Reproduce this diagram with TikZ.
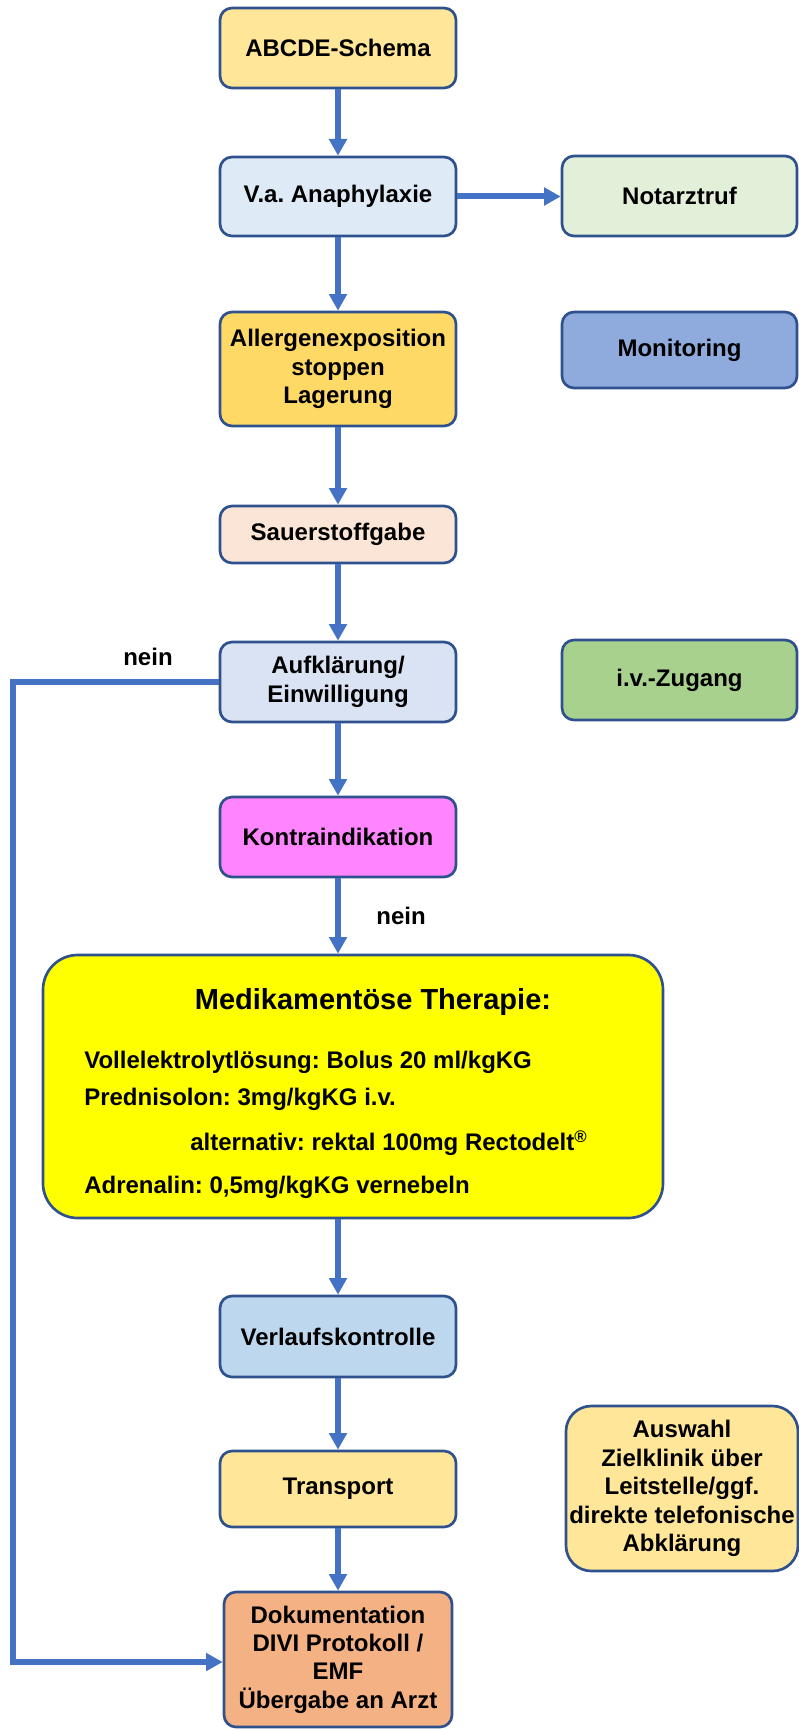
\documentclass[tikz,border=0pt]{standalone}
\usepackage{fontspec}
\setmainfont{Liberation Sans}
\usetikzlibrary{arrows.meta}
\frenchspacing
\definecolor{bordc}{HTML}{2F528F}
\definecolor{linec}{HTML}{4472C4}
\definecolor{cabc}{HTML}{FFE699}
\definecolor{cva}{HTML}{DEEBF7}
\definecolor{cnot}{HTML}{E2F0D9}
\definecolor{call}{HTML}{FFD966}
\definecolor{cmon}{HTML}{8FAADC}
\definecolor{csau}{HTML}{FBE5D6}
\definecolor{cauf}{HTML}{DAE3F3}
\definecolor{civz}{HTML}{A9D18E}
\definecolor{ckon}{HTML}{FF85FF}
\definecolor{cmed}{HTML}{FFFF00}
\definecolor{cver}{HTML}{BDD7EE}
\definecolor{cdok}{HTML}{F4B183}
\tikzset{
  box/.style={draw=bordc, line width=2pt, rounded corners=9pt, align=center,
    font=\fontsize{18}{21.3}\selectfont\bfseries, inner sep=1pt},
  conn/.style={draw=linec, line width=4.5pt, -{Triangle[length=12.5pt,width=13pt]}},
  txt/.style={font=\fontsize{18}{21.3}\selectfont\bfseries, inner sep=0pt},
}
\newcommand\mkbox[7]{\node[box,#6,minimum width={(#4-#2)*0.75pt},minimum height={(#5-#3)*0.75pt}] (#1) at ({(#2+#4)/2},{(#3+#5)/2}) {#7};}
\begin{document}
\begin{tikzpicture}[x=0.75pt,y=-0.75pt]
\useasboundingbox (0,0) rectangle (799,1730);
\mkbox{abc}{220}{8}{456}{88}{fill=cabc}{ABCDE-Schema}
\mkbox{va}{220}{157}{456}{236}{fill=cva}{V.a. Anaphylaxie}
\mkbox{nota}{562}{156}{797}{236}{fill=cnot}{Notarztruf}
\mkbox{all}{220}{312}{456}{426}{fill=call}{Allergenexposition\\stoppen\\Lagerung}
\mkbox{mon}{562}{312}{797}{388}{fill=cmon}{Monitoring}
\mkbox{sau}{220}{506}{456}{563}{fill=csau}{Sauerstoffgabe}
\mkbox{auf}{220}{642}{456}{722}{fill=cauf}{Aufklärung/\\Einwilligung}
\mkbox{ivz}{562}{640}{797}{720}{fill=civz}{i.v.-Zugang}
\mkbox{kon}{220}{797}{456}{877}{fill=ckon}{Kontraindikation}
\mkbox{med}{43}{955}{663}{1218}{fill=cmed,rounded corners=26pt}{}
\mkbox{ver}{220}{1296}{456}{1377}{fill=cver}{Verlaufskontrolle}
\mkbox{tra}{220}{1451}{456}{1527}{fill=cabc}{Transport}
\mkbox{dok}{224}{1592}{452}{1727}{fill=cdok}{Dokumentation\\DIVI Protokoll /\\EMF\\Übergabe an Arzt}
\mkbox{ausw}{566}{1406}{798}{1571}{fill=cabc,rounded corners=19pt}{Auswahl\\Zielklinik über\\Leitstelle/ggf.\\direkte telefonische\\Abklärung}
% text of the therapy box
\node[txt, font=\fontsize{21.75}{26}\selectfont\bfseries] (medt) at (373,1002) {Medikamentöse Therapie:};
\node[txt, anchor=west] (m1) at (84,1062) {Vollelektrolytlösung: Bolus 20 ml/kgKG};
\node[txt, anchor=west] (m2) at (84,1099) {Prednisolon: 3mg/kgKG i.v.};
\node[txt, anchor=west] (m3) at (190,1143) {alternativ: rektal 100mg Rectodelt\textsuperscript{®}};
\node[txt, anchor=west] (m4) at (84,1187) {Adrenalin: 0,5mg/kgKG vernebeln};
% labels
\node[txt] (nein1) at (148,657) {nein};
\node[txt] (nein2) at (401,916) {nein};
% connectors
\draw[conn] (abc.south) -- (va.north);
\draw[conn] (va.east) -- (va.east -| nota.west);
\draw[conn] (va.south) -- (all.north);
\draw[conn] (all.south) -- (sau.north);
\draw[conn] (sau.south) -- (auf.north);
\draw[conn] (auf.south) -- (kon.north);
\draw[conn] (kon.south) -- (kon.south |- med.north);
\draw[conn] (ver.north |- med.south) -- (ver.north);
\draw[conn] (ver.south) -- (tra.north);
\draw[conn] (tra.south) -- (tra.south |- dok.north);
\coordinate (fb) at (13,1662);
\draw[conn] (auf.west) -| (fb) -- (fb -| dok.west);
\end{tikzpicture}
\end{document}
